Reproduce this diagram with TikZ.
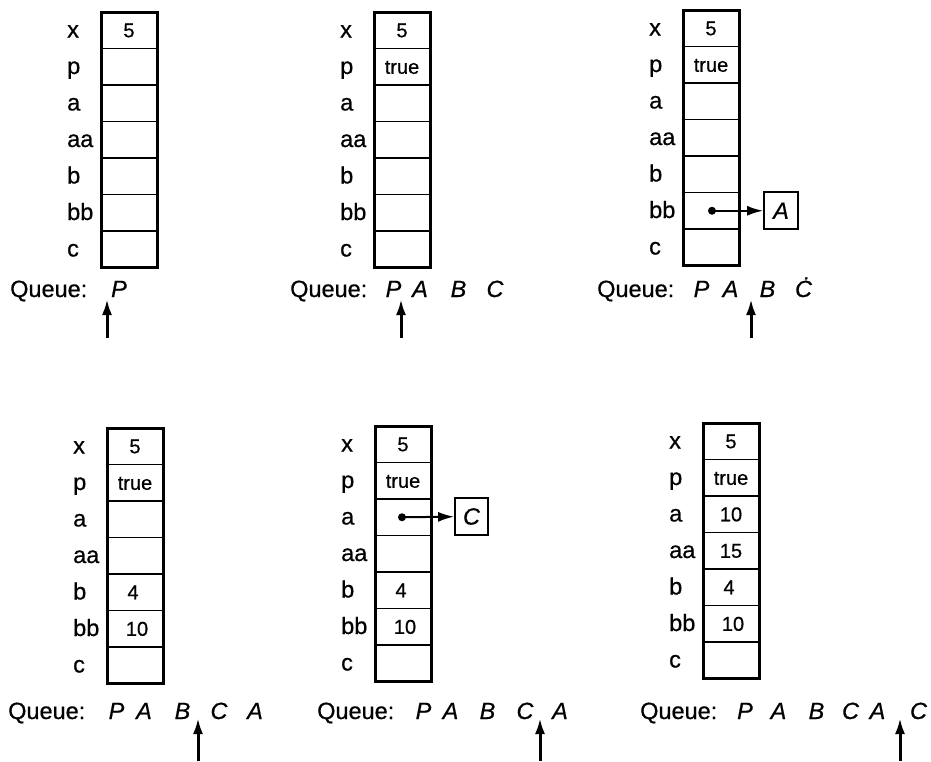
\documentclass[tikz,border=0pt]{standalone}
\usepackage{fontspec}
\setmainfont{Liberation Sans}[FakeBold=0.6]
\usetikzlibrary{arrows.meta}
\usetikzlibrary{positioning}

\tikzset{
  varname/.style={anchor=base west, inner sep=0pt, font=\fontsize{23.5}{28}\selectfont},
  cellval/.style={anchor=base, inner sep=0pt, font=\fontsize{20}{24}\selectfont},
  qhead/.style={anchor=base west, inner sep=0pt, font=\fontsize{23.5}{28}\selectfont},
  qitem/.style={anchor=base, inner sep=0pt, font=\fontsize{23.5}{28}\selectfont\itshape},
  procbox/.style={draw, line width=1.8pt, minimum width=33pt, minimum height=37pt, inner sep=0pt,
    font=\fontsize{23.5}{28}\selectfont\itshape},
  refdot/.style={circle, fill, inner sep=0pt, minimum size=8pt},
  qptr/.style={line width=3pt, -{Latex[length=16pt,width=10pt]}},
  refptr/.style={line width=2pt, -{Latex[length=16pt,width=10pt]}},
}

% register column: grid plus variable names, origin = top left corner
\newcommand{\regcol}{%
  \foreach \i in {1,...,6}
    \draw[line width=1.8pt] (0, 36.5*\i) -- +(56, 0);
  \draw[line width=3pt] (0, 0) rectangle (56, 255.5);
  \foreach \v [count=\i from 0] in {x,p,a,aa,b,bb,c}
    \node[varname] at (-34, 36.5*\i+25.5) {\v};
}

\begin{document}
\begin{tikzpicture}[x=1pt, y=-1pt]
\useasboundingbox (0, 0) rectangle (931, 761);

%step 1
\begin{scope}[shift={(101, 12)}]
  \regcol
  \node[cellval] (v1x) at (28, 25.25) {5};
  \node[qhead] (q1) at (-91, 285) {Queue:};
  \node[qitem] (q1p) at (18, 285) {P};
  \coordinate (s1) at (6, 326);
  \coordinate (t1) at (6, 287);
  \draw[qptr] (s1) -- (t1);
\end{scope}

%step 2
\begin{scope}[shift={(374, 12)}]
  \regcol
  \node[cellval] (v2x) at (28, 25.25) {5};
  \node[cellval] (v2p) at (28, 61.75) {true};
  \node[qhead] (q2) at (-84, 285) {Queue:};
  \foreach \l/\x [count=\k] in {P/19.5, A/46, B/84.5, C/121}
    \node[qitem] (q2i\k) at (\x, 285) {\l};
  \coordinate (s2) at (27, 326);
  \coordinate (t2) at (27, 287);
  \draw[qptr] (s2) -- (t2);
\end{scope}

%step 3
\begin{scope}[shift={(683, 10)}]
  \regcol
  \node[cellval] (v3x) at (28, 25.25) {5};
  \node[cellval] (v3p) at (28, 61.75) {true};
  \node[refdot] (d3) at (29, 200.75) {};
  \node[procbox, minimum width=34pt] (pa3) at (98, 200.75) {A};
  \draw[refptr] (d3.center) -- (pa3);
  \node[qhead] (q3) at (-86, 287) {Queue:};
  \foreach \l/\x [count=\k] in {P/18.5, A/47.5, B/84.5, Ċ/120.5}
    \node[qitem] (q3i\k) at (\x, 287) {\l};
  \coordinate (s3) at (68, 328);
  \coordinate (t3) at (68, 289);
  \draw[qptr] (s3) -- (t3);
\end{scope}

%step 4
\begin{scope}[shift={(107, 428)}]
  \regcol
  \node[cellval] (v4x) at (28, 25.25) {5};
  \node[cellval] (v4p) at (28, 61.75) {true};
  \node[cellval] (v4b) at (26, 171.25) {4};
  \node[cellval] (v4bb) at (30, 207.75) {10};
  \node[qhead] (q4) at (-99, 291) {Queue:};
  \foreach \l/\x [count=\k] in {P/9.5, A/37, B/75.5, C/112, A/148}
    \node[qitem] (q4i\k) at (\x, 291) {\l};
  \coordinate (s4) at (91, 333);
  \coordinate (t4) at (91, 290);
  \draw[qptr] (s4) -- (t4);
\end{scope}

%step 5
\begin{scope}[shift={(375, 426)}]
  \regcol
  \node[cellval] (v5x) at (28, 25.25) {5};
  \node[cellval] (v5p) at (28, 61.75) {true};
  \node[refdot] (d5) at (27, 91.25) {};
  \node[procbox] (pc5) at (96.5, 90.5) {C};
  \draw[refptr] (d5.center) -- (pc5);
  \node[cellval] (v5b) at (26, 171.25) {4};
  \node[cellval] (v5bb) at (30, 207.75) {10};
  \node[qhead] (q5) at (-58, 293) {Queue:};
  \foreach \l/\x [count=\k] in {P/48.5, A/75.5, B/112.5, C/150, A/185}
    \node[qitem] (q5i\k) at (\x, 293) {\l};
  \coordinate (s5) at (165, 335);
  \coordinate (t5) at (165, 292);
  \draw[qptr] (s5) -- (t5);
\end{scope}

%step 6
\begin{scope}[shift={(703, 423)}]
  \regcol
  \node[cellval] (v6x) at (28, 25.25) {5};
  \node[cellval] (v6p) at (28, 61.75) {true};
  \node[cellval] (v6a) at (28, 98.25) {10};
  \node[cellval] (v6aa) at (28, 134.75) {15};
  \node[cellval] (v6b) at (26, 171.25) {4};
  \node[cellval] (v6bb) at (30, 207.75) {10};
  \node[qhead] (q6) at (-63, 296) {Queue:};
  \foreach \l/\x [count=\k] in {P/42, A/75.5, B/113.5, C/147.5, A/174.5, C/215.5}
    \node[qitem] (q6i\k) at (\x, 296) {\l};
  \coordinate (s6) at (197, 338);
  \coordinate (t6) at (197, 295);
  \draw[qptr] (s6) -- (t6);
\end{scope}
\end{tikzpicture}
\end{document}
